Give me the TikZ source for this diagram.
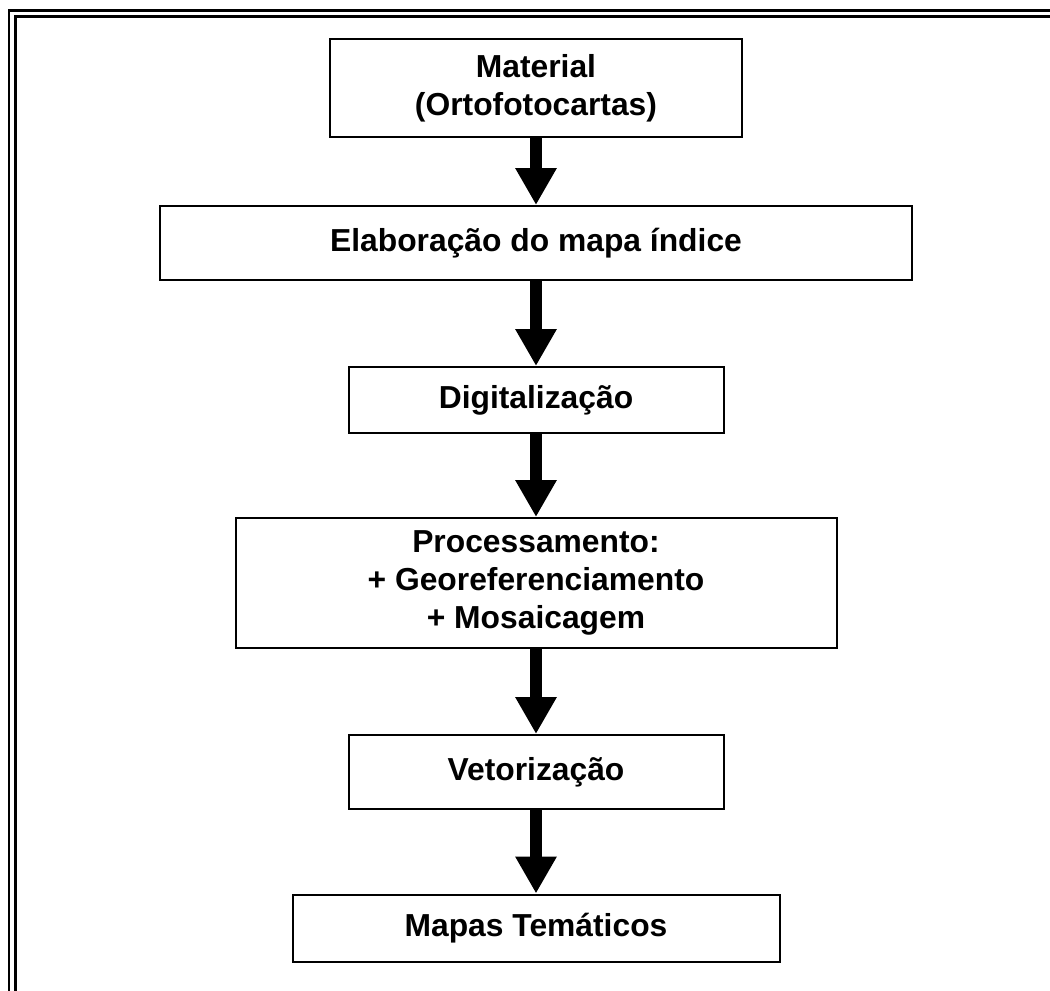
\documentclass[tikz,border=0pt]{standalone}
\usepackage{fontspec}
\setmainfont{Liberation Sans}
\usetikzlibrary{arrows.meta}

\begin{document}
\begin{tikzpicture}[x=0.5pt,y=-0.5pt]
%define

\tikzstyle{state_s} = [rectangle, minimum width=187.5pt, text centered, draw=black, line width=1pt, align=center, font=\bfseries\fontsize{15.9}{19}\selectfont]
\tikzstyle{state_m} = [rectangle, minimum width=206pt, text centered, draw=black, line width=1pt, align=center, font=\bfseries\fontsize{15.9}{19}\selectfont]
\tikzstyle{state_l} = [rectangle, minimum width=243.5pt, text centered, draw=black, line width=1pt, align=center, font=\bfseries\fontsize{15.9}{19}\selectfont]
\tikzstyle{state_xl} = [rectangle, minimum width=300.5pt, text centered, draw=black, line width=1pt, align=center, font=\bfseries\fontsize{15.9}{19}\selectfont]
\tikzstyle{state_xxl} = [rectangle, minimum width=376pt, text centered, draw=black, line width=1pt, align=center, font=\bfseries\fontsize{15.9}{19}\selectfont]
\tikzstyle{arrowb} = [-{Triangle[width=19.5pt, length=18.5pt]}, line width=6.3pt]

\useasboundingbox (0,0) rectangle (1050,991);

%frame
\draw[line width=1.1pt](9,991)--(9,10.5)--(1050,10.5);
\draw[line width=1.1pt](15.5,991)--(15.5,16.5)--(1050,16.5);

\node[state_m, minimum height=49pt](state_Material) at (536,88){Material\\(Ortofotocartas)};
\node[state_xxl, minimum height=37pt](state_Indice) at (536,243){Elaboração do mapa índice};
\node[state_s, minimum height=33pt](state_Digital) at (536,400){Digitalização};
\node[state_xl, minimum height=65pt](state_Proc) at (536,583){Processamento:\\+ Georeferenciamento\\+ Mosaicagem};
\node[state_s, minimum height=37pt](state_Vetor) at (536,772){Vetorização};
\node[state_l, minimum height=33.5pt](state_Mapas) at (536,928){Mapas Temáticos};
%line

\draw[arrowb](state_Material)--(state_Indice); %Material->Indice
\draw[arrowb](state_Indice)--(state_Digital); %Indice->Digitalizacao
\draw[arrowb](state_Digital)--(state_Proc); %Digitalizacao->Processamento
\draw[arrowb](state_Proc)--(state_Vetor); %Processamento->Vetorizacao
\draw[arrowb](state_Vetor)--(state_Mapas); %Vetorizacao->Mapas

\end{tikzpicture}
\end{document}
